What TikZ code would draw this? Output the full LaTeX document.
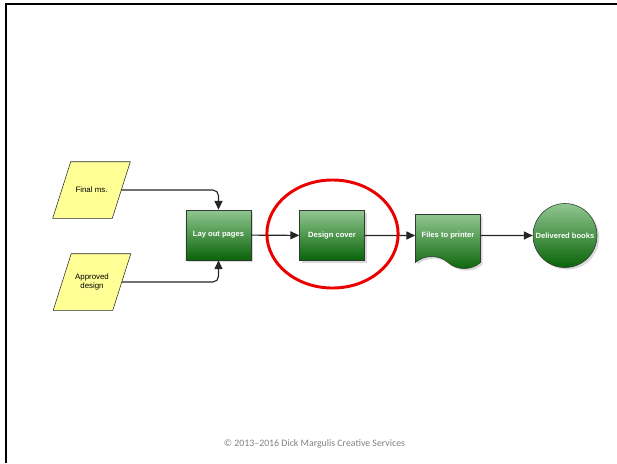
\documentclass[tikz,border=0pt]{standalone}
\usepackage{fontspec}
\setmainfont{Liberation Sans}
\newfontfamily\copyfont{Carlito}
\usetikzlibrary{shapes.symbols, shadows, arrows.meta, backgrounds}

\definecolor{gtop}{RGB}{145,198,145}
\definecolor{gbot}{RGB}{8,100,8}
\definecolor{gedge}{RGB}{45,60,45}
\definecolor{ylw}{RGB}{255,255,150}
\definecolor{ring}{RGB}{235,0,0}

\tikzset{
    inbox/.style={minimum width=1.475cm, minimum height=1.4cm, inner sep=0pt,
        font=\fontsize{5.6}{6.6}\selectfont, align=center},
    para/.style={draw=black!80, fill=ylw},
    stepbox/.style={draw=gedge, top color=gtop, bottom color=gbot,
        minimum width=1.625cm, minimum height=1.25cm, inner sep=0pt,
        text=white, font=\bfseries\fontsize{5.4}{6.4}\selectfont,
        drop shadow={shadow xshift=1.5pt, shadow yshift=-1.5pt, fill=black!30}},
    arr/.style={-{Triangle[length=2.2mm, width=2mm]}, thick, black!85},
}

\begin{document}
\begin{tikzpicture}[x=0.025cm, y=-0.025cm]
    \useasboundingbox (0,0) rectangle (617,463);

    % frame
    \draw[line width=1.5pt] (6,463) -- (6,4) -- (617,4);

    \node[inbox] (fin) at (91.5,190) {Final ms.};
    \node[inbox] (appr) at (92,282) {Approved\\design};

    % parallelograms behind the text
    \begin{scope}[on background layer]
        \foreach \n in {fin, appr} {
            \fill[black!30, shift={(1.5pt,-1.5pt)}] ([xshift=0.225cm]\n.north west) -- ([xshift=0.225cm]\n.north east)
                -- ([xshift=-0.225cm]\n.south east) -- ([xshift=-0.225cm]\n.south west) -- cycle;
            \filldraw[para] ([xshift=0.225cm]\n.north west) -- ([xshift=0.225cm]\n.north east)
                -- ([xshift=-0.225cm]\n.south east) -- ([xshift=-0.225cm]\n.south west) -- cycle;
        }
    \end{scope}

    \node[stepbox] (layout) at (218.5,235) {Lay out pages};
    \node[stepbox] (cover) at (332,235.5) {Design cover};
    \node[stepbox, tape, tape bend top=none, tape bend bottom=out and in,
        tape bend height=0.3cm, minimum height=1.35cm] (files) at (448,235.5) {Files to printer};
    \node[stepbox, circle, minimum size=1.6cm] (books) at (565,235.5) {Delivered books};

    \draw[arr, rounded corners=4pt] (fin.east) -| (layout.north);
    \draw[arr, rounded corners=4pt] (appr.east) -| (layout.south);
    \draw[arr] (layout) -- (cover);
    \draw[arr] (cover) -- (files);
    \draw[arr] (files) -- (books);

    \draw[ring, line width=2.1pt] (332.5,234) ellipse [x radius=1.64cm, y radius=1.35cm];

    \node[text=black!50, font=\copyfont\fontsize{7}{8}\selectfont] (copy) at (314.5,444)
        {© 2013–2016 Dick Margulis Creative Services};
\end{tikzpicture}
\end{document}
